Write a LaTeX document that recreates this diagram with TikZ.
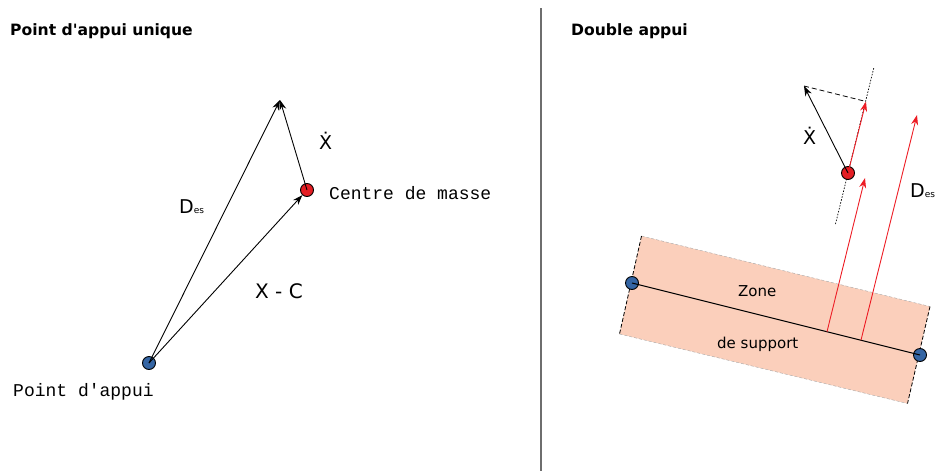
\documentclass[tikz,border=0pt]{standalone}
\usepackage{fontspec}
\setmainfont{DejaVu Sans}[Ligatures=TeXOff]
\newfontfamily\monofont{Liberation Mono}
\usepackage{tikz}
\usetikzlibrary{arrows.meta, calc}
\definecolor{PtBlue}{RGB}{52,101,164}
\definecolor{PtRed}{RGB}{228,30,36}
\definecolor{ArRed}{RGB}{237,28,36}
\definecolor{ZoneFill}{RGB}{251,207,187}
\definecolor{DivGray}{RGB}{110,110,110}

\begin{document}
\begin{tikzpicture}[x=1pt, y=-1pt,
      pt/.style={circle, draw=black, line width=0.9pt, inner sep=0pt,
                 minimum size=13pt},
      arr/.style={-{Stealth[length=10pt, width=7pt]}, line width=0.9pt},
      rarr/.style={arr, ArRed},
      ttl/.style={anchor=base west, inner sep=0pt,
                  font=\fontsize{15.6}{17}\selectfont\bfseries},
      mono/.style={anchor=base west, inner sep=0pt,
                   font=\monofont\fontsize{18}{20}\selectfont},
      lbl/.style={anchor=base west, inner sep=0pt,
                  font=\fontsize{19}{21}\selectfont},
      zlbl/.style={anchor=base west, inner sep=0pt,
                   font=\fontsize{15}{17}\selectfont}
    ]
    \useasboundingbox (0,0) rectangle (936,471);

    %--- Point d'appui unique (left) ---
    \node[ttl] (ttlA) at (10,35) {Point d'appui unique};

    \node[pt, fill=PtBlue] (appui) at (149,363) {};
    \node[pt, fill=PtRed] (cm) at (307,190) {};
    \coordinate (desA) at (280,100);
    \draw[arr] (appui.center) -- (desA);
    \draw[arr] (appui.center) -- (cm);
    \draw[arr] (cm.center) -- (desA);

    \node[lbl] (xdotA) at (319,149) {Ẋ};
    \node[lbl] (deslblA) at (179,213) {D{\fontsize{9}{9}\selectfont es}};
    \node[lbl, font=\fontsize{20}{22}\selectfont] (xc) at (255,298) {X - C};
    \node[mono] (cmlbl) at (329,199) {Centre de masse};
    \node[mono] (appuilbl) at (13,396) {Point d'appui};

    %--- Double appui (right) ---
    \node[ttl] (ttlB) at (571,35) {Double appui};

    \coordinate (z1) at (641.5,236);
    \coordinate (z2) at (930,306.5);
    \coordinate (z3) at (907.5,403.5);
    \coordinate (z4) at (619.5,334);
    \fill[ZoneFill] (z1) -- (z2) -- (z3) -- (z4) -- cycle;
    \draw[gray!70, dash pattern=on 3pt off 2pt] (z1) -- (z2) (z4) -- (z3);
    \draw[line width=0.8pt, dash pattern=on 4pt off 2pt] (z1) -- (z4) (z2) -- (z3);

    \node[zlbl] (zone) at (738,296) {Zone};
    \node[zlbl] (support) at (717,348) {de support};

    \coordinate (perpA) at (835.5,224);
    \coordinate (perpB) at (874,67);
    \coordinate (xdtip) at (804,86);
    \coordinate (proj) at (866,101.5);
    \draw[line width=0.7pt, dash pattern=on 1.5pt off 1.5pt] (perpA) -- (perpB);
    \draw[line width=0.8pt, dash pattern=on 5pt off 3pt] (xdtip) -- (proj);

    \node[pt, fill=PtBlue] (appuiL) at (632,283) {};
    \node[pt, fill=PtBlue] (appuiR) at (920,355) {};
    \node[pt, fill=PtRed] (cmB) at (848,173) {};
    \draw[line width=1pt] (appuiL.center) -- (appuiR.center);

    \coordinate (s1) at ($(appuiL)!0.677!(appuiR)$);
    \coordinate (s2) at ($(appuiL)!0.795!(appuiR)$);
    \coordinate (e1) at (865,178);
    \coordinate (e2) at (917,115);
    \draw[rarr] (s1) -- (e1);
    \draw[rarr] (s2) -- (e2);
    \draw[rarr] (cmB.center) -- (proj);
    \draw[arr] (cmB.center) -- (xdtip);

    \node[lbl] (xdotB) at (803,144) {Ẋ};
    \node[lbl] (deslblB) at (910,197) {D{\fontsize{9}{9}\selectfont es}};

    %--- Divider ---
    \draw[DivGray, line width=1.2pt] (541,8) -- (541,471);
  \end{tikzpicture}
\end{document}
